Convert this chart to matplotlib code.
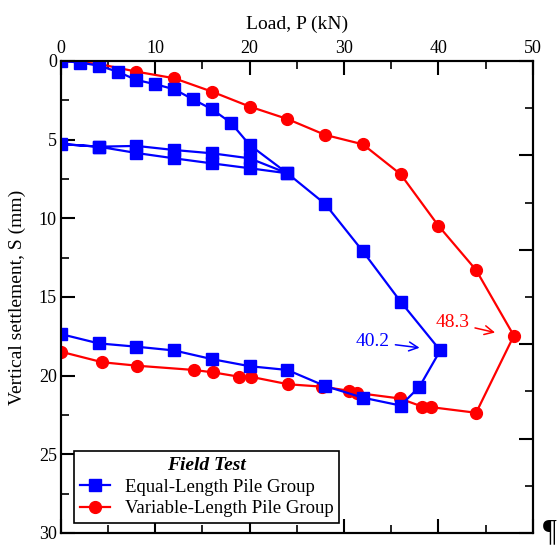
import matplotlib
matplotlib.use('Agg')
import matplotlib.pyplot as plt
from matplotlib.ticker import MultipleLocator

plt.rcParams['font.family'] = ['Liberation Serif', 'DejaVu Serif']

# Equal-Length Pile Group: load (kN) / settlement (mm)
equal_load = [0, 2, 4, 6, 8, 10, 12, 14, 16, 18, 20, 24,
              20, 16, 12, 8, 4, 0, 4, 8, 12, 16, 20, 24,
              28, 32, 36, 40.2, 38, 36, 32, 28, 24, 20, 16, 12, 8, 4, 0]
equal_settle = [0, 0.1, 0.3, 0.68, 1.21, 1.48, 1.8, 2.44, 3.07, 3.92, 5.34, 7.14,
                6.19, 5.87, 5.66, 5.4, 5.45, 5.28, 5.45, 5.85, 6.19, 6.51, 6.82, 7.14,
                9.09, 12.1, 15.3, 18.4, 20.7, 21.9, 21.4, 20.66, 19.64, 19.4, 18.95, 18.4, 18.16, 17.95, 17.36]

# Variable-Length Pile Group
var_load = [0, 4, 8, 12, 16, 20, 24, 28, 32, 36, 40, 44, 48.0,
            44, 39.2, 38.3, 35.9, 31.4, 30.5, 27.7, 24.1, 20.1, 18.9, 16.1, 14.1, 8.1, 4.4, 0]
var_settle = [0, 0.19, 0.68, 1.1, 1.95, 2.9, 3.69, 4.7, 5.3, 7.2, 10.47, 13.29, 17.46,
              22.36, 22.0, 21.97, 21.45, 21.1, 20.96, 20.7, 20.55, 20.07, 20.07, 19.79, 19.64, 19.37, 19.15, 18.48]

fig = plt.figure(figsize=(5.59, 5.47), dpi=100)
ax = fig.add_axes([0.109, 0.0256, 0.844, 0.863])

ax.plot(equal_load, equal_settle, color='#0000ff', lw=1.6, marker='s', ms=8,
        label='Equal-Length Pile Group', zorder=3)
ax.plot(var_load, var_settle, color='#ff0000', lw=1.6, marker='o', ms=8.5,
        label='Variable-Length Pile Group', zorder=2)

ax.set_xlim(0, 50)
ax.set_ylim(30, 0)
ax.xaxis.set_major_locator(MultipleLocator(10))
ax.xaxis.set_minor_locator(MultipleLocator(5))
ax.yaxis.set_major_locator(MultipleLocator(5))
ax.yaxis.set_minor_locator(MultipleLocator(2.5))
ax.xaxis.set_label_position('top')
ax.tick_params(axis='x', which='both', top=True, bottom=True, labeltop=True, labelbottom=False)
ax.tick_params(axis='y', which='both', left=True, right=False)
ax.tick_params(which='major', direction='in', length=10, width=1.5, labelsize=13, pad=3)
ax.tick_params(which='minor', direction='in', length=5.5, width=1.2)
for s in ax.spines.values():
    s.set_linewidth(1.5)

ax.set_xlabel('Load, P (kN)', fontsize=14, labelpad=8)
ax.set_ylabel('Vertical settlement, S (mm)', fontsize=14, labelpad=9)

# right-hand ticks
ax2 = ax.twinx()
ax2.set_ylim(0, 50)
ax2.yaxis.set_major_locator(MultipleLocator(10))
ax2.yaxis.set_minor_locator(MultipleLocator(5))
ax2.tick_params(which='major', direction='in', length=10, width=1.5, labelright=False)
ax2.tick_params(which='minor', direction='in', length=5.5, width=1.2)
for s in ax2.spines.values():
    s.set_linewidth(1.5)

ax.annotate('40.2', xy=(38.3, 18.25), xytext=(33.05, 17.86), color='#0000ff',
            fontsize=14, ha='center', va='center',
            arrowprops=dict(arrowstyle='->', color='#0000ff', lw=1.1, mutation_scale=16))
ax.annotate('48.3', xy=(46.3, 17.3), xytext=(41.5, 16.64), color='#ff0000',
            fontsize=14, ha='center', va='center',
            arrowprops=dict(arrowstyle='->', color='#ff0000', lw=1.1, mutation_scale=16))

leg = ax.legend(loc='lower left', bbox_to_anchor=(0.0275, 0.021), borderaxespad=0,
                title='Field Test', fontsize=13.5, fancybox=False, edgecolor='black',
                handlelength=1.6, labelspacing=0.25, borderpad=0.3, framealpha=1)
leg.get_title().set_fontweight('bold')
leg.get_title().set_fontstyle('italic')
leg.get_title().set_fontsize(14)
leg.get_frame().set_linewidth(1.2)
leg.set_zorder(5)

fig.text(0.984, 0.026, '\u00b6', fontsize=22, ha='center', va='center')

fig.savefig('out.png', dpi=100)
